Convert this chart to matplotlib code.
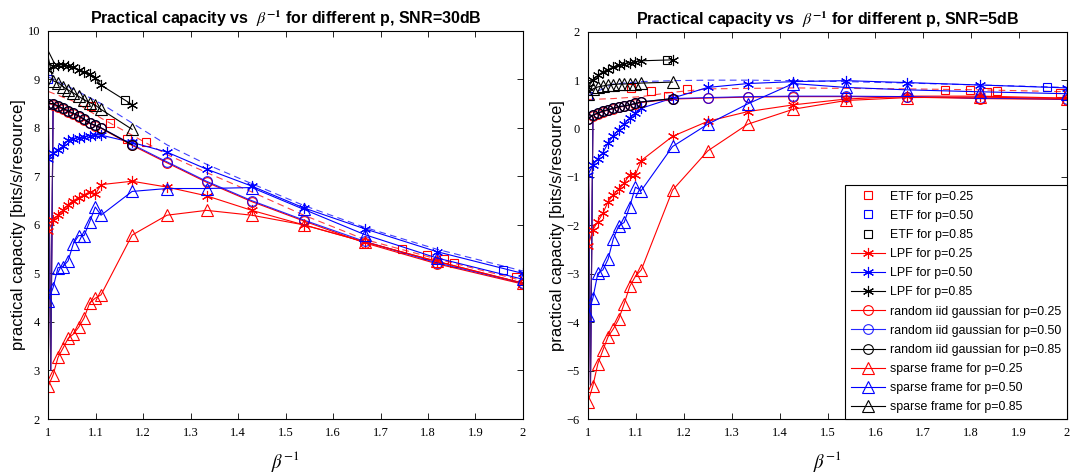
import matplotlib
matplotlib.use("Agg")
import matplotlib.pyplot as plt

# beta^-1 sampling points (100/M, M = 100..90, 85, ..., 50)
x_full = [1.0, 1.0101, 1.0204, 1.0309, 1.0417, 1.0526, 1.0638, 1.0753, 1.0870,
          1.0989, 1.1111, 1.1765, 1.25, 1.3333, 1.4286, 1.5385, 1.6667, 1.8182, 2.0]
x_dash = [1.0, 1.0526, 1.1111, 1.1765, 1.25, 1.3333, 1.4286, 1.5385, 1.6667, 1.8182, 2.0]
x_dip = [1.0, 1.005, 1.0101]

# ---------------- SNR = 30 dB ----------------
etf25_x_30 = [1.09, 1.131, 1.166, 1.206, 1.746, 1.798, 1.833, 1.854, 1.986]
etf25_y_30 = [8.45, 8.1, 7.78, 7.7, 5.5, 5.38, 5.3, 5.22, 4.92]
etf50_x_30 = [1.0, 1.958]
etf50_y_30 = [9.0, 5.08]
etf85_x_30 = [1.162]
etf85_y_30 = [8.57]

lpf25_30 = [5.88, 6.1, 6.2, 6.3, 6.42, 6.5, 6.56, 6.62, 6.68, 6.63, 6.83,
            6.9, 6.78, 6.6, 6.3, 6.0, 5.65, 5.25, 4.8]
lpf50_30 = [7.35, 7.48, 7.55, 7.62, 7.75, 7.78, 7.8, 7.82, 7.84, 7.86, 7.85,
            7.7, 7.5, 7.15, 6.8, 6.35, 5.92, 5.45, 5.0]
lpf85_30 = [9.2, 9.27, 9.3, 9.3, 9.28, 9.25, 9.2, 9.15, 9.1, 9.02, 8.88, 8.48]

gau25_30 = [8.5, 8.48, 8.43, 8.38, 8.33, 8.28, 8.23, 8.16, 8.09, 8.04, 7.99,
            7.64, 7.28, 6.88, 6.48, 6.08, 5.63, 5.2, 4.78]
gau50_30 = [8.5, 8.5, 8.45, 8.4, 8.35, 8.3, 8.25, 8.18, 8.1, 8.05, 8.0,
            7.66, 7.3, 6.9, 6.5, 6.1, 5.66, 5.22, 4.8]
gau85_30 = [8.5, 8.5, 8.45, 8.4, 8.35, 8.3, 8.25, 8.18, 8.1, 8.05, 8.0, 7.65]
dip_30 = [8.5, 3.0, 8.5]

spa25_30 = [2.68, 2.91, 3.27, 3.46, 3.66, 3.75, 3.89, 4.08, 4.39, 4.49, 4.56,
            5.79, 6.2, 6.3, 6.2, 6.0, 5.65, 5.25, 4.8]
spa50_30 = [4.44, 4.71, 5.12, 5.14, 5.26, 5.61, 5.78, 5.78, 6.06, 6.37, 6.2,
            6.69, 6.75, 6.75, 6.77, 6.32, 5.8, 5.32, 4.88]
spa85_30 = [9.45, 8.97, 8.93, 8.85, 8.78, 8.72, 8.65, 8.58, 8.52, 8.47, 8.38, 7.97]

dash_blue_30 = [9.05, 8.8, 8.5, 8.1, 7.65, 7.25, 6.85, 6.4, 5.95, 5.5, 5.05]
dash_red_30 = [8.75, 8.55, 8.2, 7.85, 7.45, 7.08, 6.68, 6.2, 5.7, 5.3, 4.85]

# ---------------- SNR = 5 dB ----------------
etf25_x_5 = [1.09, 1.131, 1.166, 1.206, 1.746, 1.798, 1.833, 1.854, 1.986]
etf25_y_5 = [0.84, 0.77, 0.67, 0.82, 0.80, 0.80, 0.76, 0.77, 0.73]
etf50_x_5 = [1.0, 1.958]
etf50_y_5 = [0.68, 0.86]
etf85_x_5 = [1.164]
etf85_y_5 = [1.42]

lpf25_5 = [-2.42, -2.09, -1.92, -1.75, -1.51, -1.37, -1.25, -1.13, -0.95, -0.95, -0.66,
           -0.16, 0.15, 0.35, 0.49, 0.61, 0.67, 0.67, 0.63]
lpf50_5 = [-0.95, -0.75, -0.62, -0.5, -0.3, -0.15, -0.02, 0.1, 0.22, 0.32, 0.42,
           0.63, 0.85, 0.93, 0.97, 0.99, 0.95, 0.9, 0.84]
lpf85_5 = [0.85, 1.0, 1.1, 1.17, 1.22, 1.27, 1.31, 1.34, 1.36, 1.38, 1.4, 1.42]

gau25_5 = [0.2, 0.27, 0.31, 0.35, 0.38, 0.41, 0.44, 0.46, 0.48, 0.51, 0.54,
           0.61, 0.63, 0.65, 0.66, 0.66, 0.65, 0.62, 0.6]
gau50_5 = [0.2, 0.28, 0.32, 0.36, 0.39, 0.42, 0.45, 0.47, 0.49, 0.52, 0.55,
           0.62, 0.64, 0.66, 0.67, 0.67, 0.66, 0.63, 0.61]
gau85_5 = [0.2, 0.28, 0.32, 0.36, 0.39, 0.42, 0.45, 0.47, 0.49, 0.52, 0.55, 0.62]
dip_5 = [0.2, -5.3, 0.2]

spa25_5 = [-5.64, -5.31, -4.86, -4.58, -4.3, -4.14, -3.94, -3.62, -3.26, -3.05, -2.92,
           -1.27, -0.46, 0.09, 0.4, 0.58, 0.64, 0.65, 0.62]
spa50_5 = [-3.85, -3.5, -2.99, -2.92, -2.7, -2.28, -2.01, -1.94, -1.61, -1.21, -1.28,
           -0.37, 0.09, 0.51, 0.93, 0.85, 0.8, 0.76, 0.72]
spa85_5 = [0.72, 0.82, 0.86, 0.88, 0.9, 0.91, 0.92, 0.92, 0.93, 0.93, 0.94, 0.96]

dash_blue_5 = [0.68, 0.92, 0.97, 0.99, 1.0, 1.0, 0.99, 0.97, 0.94, 0.9, 0.85]
dash_red_5 = [0.6, 0.62, 0.66, 0.75, 0.82, 0.83, 0.84, 0.83, 0.82, 0.8, 0.76]

P_LABELS = ["0.25", "0.50", "0.85"]
COLORS = ["#ff0000", "#0000ff", "#000000"]

plt.rcParams["font.family"] = ["Liberation Sans", "DejaVu Sans"]
plt.rcParams["mathtext.fontset"] = "stix"


def draw_panel(ax, etf, lpf, gau, spa, dashes, dip, ylim, snr):
    lw = 0.8
    # helper dashed curves (not in legend)
    ax.plot(x_dash, dashes[1], color="#ff4040", lw=lw, ls=(0, (6, 4)))
    ax.plot(x_dash, dashes[0], color="#4040ff", lw=lw, ls=(0, (6, 4)))
    for c in COLORS:
        ax.plot(x_dip, dip, color=c if c != "#000000" else "#40207a", lw=lw)

    for (ex, ey), c, p in zip(etf, COLORS, P_LABELS):
        ax.plot(ex, ey, ls="none", marker="s", ms=6, mfc="none", mec=c, mew=0.8,
                label=f"ETF for p={p}")
    for y, c, p in zip(lpf, COLORS, P_LABELS):
        ax.plot(x_full[:len(y)], y, color=c, lw=lw, marker=(6, 2, 0), ms=8, mew=0.8,
                label=f"LPF for p={p}")
    for y, c, p in zip(gau, COLORS, P_LABELS):
        ax.plot(x_full[:len(y)], y, color=c, lw=lw, marker="o", ms=7, mfc="none", mew=0.8,
                alpha=0.85 if c == "#0000ff" else 1.0,
                label=f"random iid gaussian for p={p}")
    for y, c, p in zip(spa, COLORS, P_LABELS):
        ax.plot(x_full[:len(y)], y, color=c, lw=lw, marker="^", ms=8, mfc="none", mew=0.8,
                label=f"sparse frame for p={p}")

    ax.set_xlim(1, 2)
    ax.set_ylim(*ylim)
    ax.set_xticks([1 + i / 10 for i in range(11)])
    ax.set_xticklabels(["1", "1.1", "1.2", "1.3", "1.4", "1.5", "1.6", "1.7", "1.8", "1.9", "2"])
    ax.tick_params(direction="in", top=True, right=True, length=4, width=0.6,
                   labelsize=9, pad=6)
    for lab in ax.get_xticklabels() + ax.get_yticklabels():
        lab.set_family("Liberation Serif")
    for s in ax.spines.values():
        s.set_linewidth(0.8)
    ax.set_xlabel(r"$\beta^{-1}$", fontsize=13.5, labelpad=7)
    ax.set_ylabel("practical capacity [bits/s/resource]", fontsize=12, labelpad=1)
    ax.set_title(r"Practical capacity vs  $\beta^{\mathbf{-1}}$ for different p, SNR=" + snr,
                 fontsize=11.5, fontweight="bold", pad=5)


fig = plt.figure(figsize=(10.86, 4.74), dpi=100)
ax1 = fig.add_axes([0.0445, 0.116, 0.437, 0.819])
ax2 = fig.add_axes([0.5415, 0.116, 0.441, 0.817])

draw_panel(ax1,
           [(etf25_x_30, etf25_y_30), (etf50_x_30, etf50_y_30), (etf85_x_30, etf85_y_30)],
           [lpf25_30, lpf50_30, lpf85_30], [gau25_30, gau50_30, gau85_30],
           [spa25_30, spa50_30, spa85_30], [dash_blue_30, dash_red_30], dip_30,
           (2, 10), "30dB")
draw_panel(ax2,
           [(etf25_x_5, etf25_y_5), (etf50_x_5, etf50_y_5), (etf85_x_5, etf85_y_5)],
           [lpf25_5, lpf50_5, lpf85_5], [gau25_5, gau50_5, gau85_5],
           [spa25_5, spa50_5, spa85_5], [dash_blue_5, dash_red_5], dip_5,
           (-6, 2), "5dB")

leg = ax2.legend(loc="lower right", fontsize=8.9, handlelength=2.8, labelspacing=0.58,
                 borderaxespad=0, fancybox=False, edgecolor="black", framealpha=1,
                 borderpad=0.45, handletextpad=0.4)
leg.get_frame().set_linewidth(0.8)

fig.savefig("out.png", dpi=100)
